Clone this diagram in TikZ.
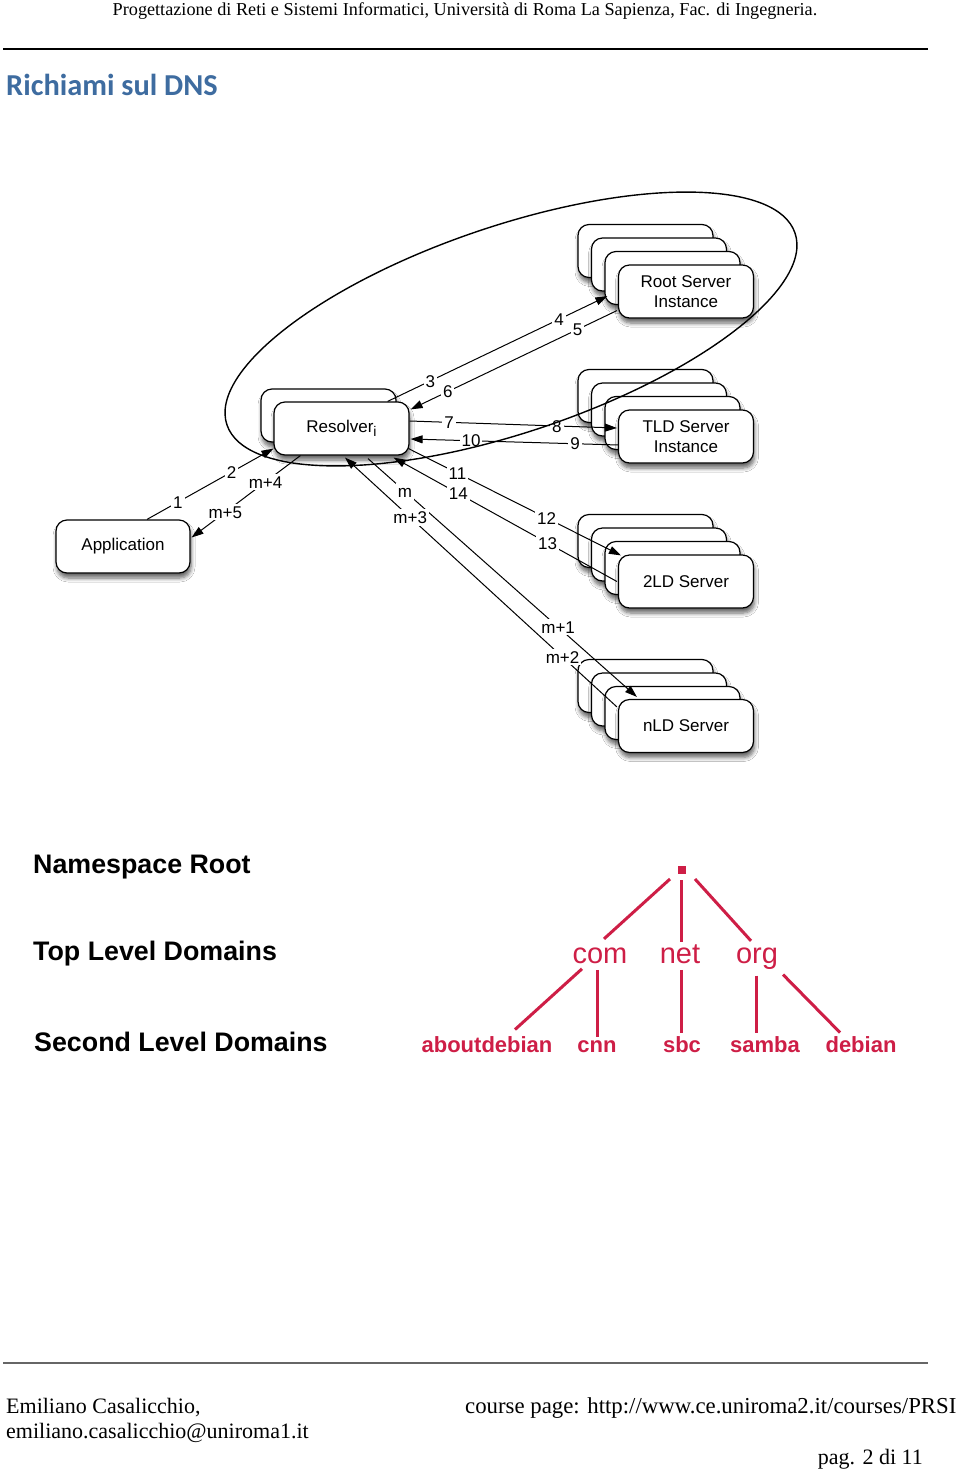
\documentclass[tikz,border=0pt]{standalone}
\usepackage{fontspec}
\setmainfont{Liberation Serif}
\setsansfont{Liberation Sans}
\newfontfamily\titlefont{Carlito}
\usetikzlibrary{arrows.meta,shadows.blur,calc}
\definecolor{titleblue}{RGB}{62,108,160}
\definecolor{treered}{RGB}{206,30,70}
\begin{document}
\begin{tikzpicture}[x=1pt,y=-1pt,
  card/.style={draw,line width=1.2pt,rounded corners=11pt,fill=white,
    minimum width=135pt,minimum height=53pt,inner sep=0pt,align=center,
    font=\sffamily\fontsize{17}{20}\selectfont,
    blur shadow={shadow xshift=1pt,shadow yshift=-5pt,shadow blur radius=4pt,shadow opacity=60,shadow blur steps=6}},
  conn/.style={line width=1pt},
  tip/.style={-{Triangle[length=12pt,width=8pt]}},
  lab/.style={fill=white,inner sep=2pt,text height=12.5pt,text depth=0pt,
    font=\sffamily\fontsize{17}{20}\selectfont},
  lvl/.style={anchor=base west,inner sep=0pt,font=\sffamily\bfseries\fontsize{26.8}{30}\selectfont},
  tld/.style={anchor=base,text=treered,font=\sffamily\fontsize{29}{30}\selectfont},
  sld/.style={anchor=base,text=treered,font=\sffamily\bfseries\fontsize{22}{26}\selectfont},
  branch/.style={draw=treered,line width=3pt},
  foot/.style={inner sep=0pt,font=\fontsize{22}{24}\selectfont}
]
\useasboundingbox (0,0) rectangle (960,1473);
\fill[white] (0,0) rectangle (960,1473);

% header
\node[anchor=base,inner sep=0pt,font=\fontsize{18.2}{20}\selectfont] (hdr) at (465,15)
  {Progettazione di Reti e Sistemi Informatici, Università di Roma La Sapienza, Fac. di Ingegneria.};
\draw[line width=1.2pt] (3,49) -- (928,49);
\node[anchor=base west,inner sep=0pt,text=titleblue,font=\titlefont\bfseries\fontsize{30.4}{32}\selectfont] (title) at (6,95) {Richiami sul DNS};

% application and resolver
\node[card,minimum width=134pt] (app) at (123,546.5) {Application};
\node[card] (resB) at (328.5,415.5) {};
\node[card] (resF) at (341.5,428.5) {Resolver\raisebox{-4pt}{\fontsize{14}{14}\selectfont i}};

% server stacks
\foreach \k in {0,1,2} {
  \node[card] (root\k) at (645.5+13.5*\k,251+13.5*\k) {};
}
\node[card] (root3) at (686,291.5) {Root Server\\Instance};
\foreach \k in {0,1,2} {
  \node[card] (tld\k) at (645.5+13.5*\k,396+13.5*\k) {};
}
\node[card] (tld3) at (686,436.5) {TLD Server\\Instance};
\foreach \k in {0,1,2} {
  \node[card] (sld\k) at (645.5+13.5*\k,541+13.5*\k) {};
}
\node[card] (sld3) at (686,581.5) {2LD Server};
\foreach \k in {0,1,2} {
  \node[card] (nld\k) at (645.5+13.5*\k,686+13.5*\k) {};
}
\node[card] (nld3) at (686,726) {nLD Server};

% connectors
\draw[conn,tip] ($(app.north)+(24,0)$) -- node[lab,pos=0.244]{1} node[lab,pos=0.67]{2} ($(resF.south west)+(0,-7)$);
\draw[conn,tip] ($(resF.south west)+(27,0)$) -- node[lab,pos=0.32]{m+4} node[lab,pos=0.69]{m+5} ($(app.east)+(1,-9)$);
\draw[conn,tip] ($(resF.north east)+(-22,0)$) -- node[lab,pos=0.195]{3} node[lab,pos=0.78]{4} ($(root2.south west)+(3,-9)$);
\draw[conn,tip] ($(root3.south west)+(-1,-8)$) -- node[lab,pos=0.19]{5} node[lab,pos=0.82]{6} ($(resF.north east)+(1,8)$);
\draw[conn,tip] ($(resF.east)+(0,-7.5)$) -- node[lab,pos=0.19]{7} node[lab,pos=0.71]{8} ($(tld3.west)+(-1,-8.5)$);
\draw[conn,tip] ($(tld3.west)+(1,8.5)$) -- node[lab,pos=0.21]{9} node[lab,pos=0.71]{10} ($(resF.east)+(1,10.5)$);
\draw[conn,tip] ($(resF.south east)+(-1,-7)$) -- node[lab,pos=0.23]{11} node[lab,pos=0.65]{12} ($(sld3.north west)+(3,1)$);
\draw[conn,tip] ($(sld3.west)+(-1,0)$) -- node[lab,pos=0.31]{13} node[lab,pos=0.71]{14} ($(resF.south east)+(-16,2)$);
\draw[conn,tip] ($(resF.south)+(26.5,3)$) -- node[lab,pos=0.137]{m} node[lab,pos=0.707]{m+1} ($(nld3.north west)+(19,-2)$);
\draw[conn,tip] ($(nld3.north west)+(-1,8)$) -- node[lab,pos=0.2]{m+2} node[lab,pos=0.76]{m+3} ($(resF.south)+(3.5,2)$);

% ellipse
\coordinate (ec) at (511,329);
\draw[line width=1.4pt,rotate around={18.65:(ec)}] (ec) ellipse [x radius=299.8, y radius=103.2];

% namespace tree
\node[lvl] (nsroot) at (33,873) {Namespace Root};
\node[lvl] (toplvl) at (33,960) {Top Level Domains};
\node[lvl] (seclvl) at (34,1051) {Second Level Domains};

\node[fill=treered,minimum size=8pt,inner sep=0pt] (dot) at (682,870) {};
\node[tld] (com) at (600,963) {com};
\node[tld] (net) at (680,963) {net};
\node[tld] (org) at (757,963) {org};
\node[sld] (aboutdebian) at (487,1052) {aboutdebian};
\node[sld] (cnn) at (597,1052) {cnn};
\node[sld] (sbc) at (682,1052) {sbc};
\node[sld] (samba) at (765,1052) {samba};
\node[sld] (debian) at (861,1052) {debian};

\draw[branch] ($(dot)+(-12,9)$) -- ($(com.north)+(4,-5)$);
\draw[branch] ($(dot)+(-1,10)$) -- ($(net.north)+(1,1)$);
\draw[branch] ($(dot)+(13,9)$) -- ($(org.north)+(-6,-3)$);
\draw[branch] ($(com.south)+(-18,2)$) -- ($(aboutdebian.north)+(28,-3)$);
\draw[branch] ($(com.south)+(-3,3)$) -- ($(cnn.north)+(0,0)$);
\draw[branch] ($(net.south)+(1,3)$) -- ($(sbc.north)+(-1,0)$);
\draw[branch] ($(org.south)+(-1,3)$) -- ($(samba.north)+(-9,0)$);
\draw[branch] ($(org.south)+(26,2)$) -- ($(debian.north)+(-21,0)$);

% footer
\draw[line width=2pt,black!60] (3,1363) -- (928,1363);
\node[foot,anchor=base west] (author) at (6,1413) {Emiliano Casalicchio,};
\node[foot,anchor=base west] (mail) at (6,1438) {emiliano.casalicchio@uniroma1.it};
\node[foot,anchor=base west,font=\fontsize{22.8}{24}\selectfont] (course) at (465,1413) {course page: http://www.ce.uniroma2.it/courses/PRSI};
\node[foot,anchor=base east] (page) at (923,1464) {pag. 2 di 11};
\end{tikzpicture}
\end{document}
